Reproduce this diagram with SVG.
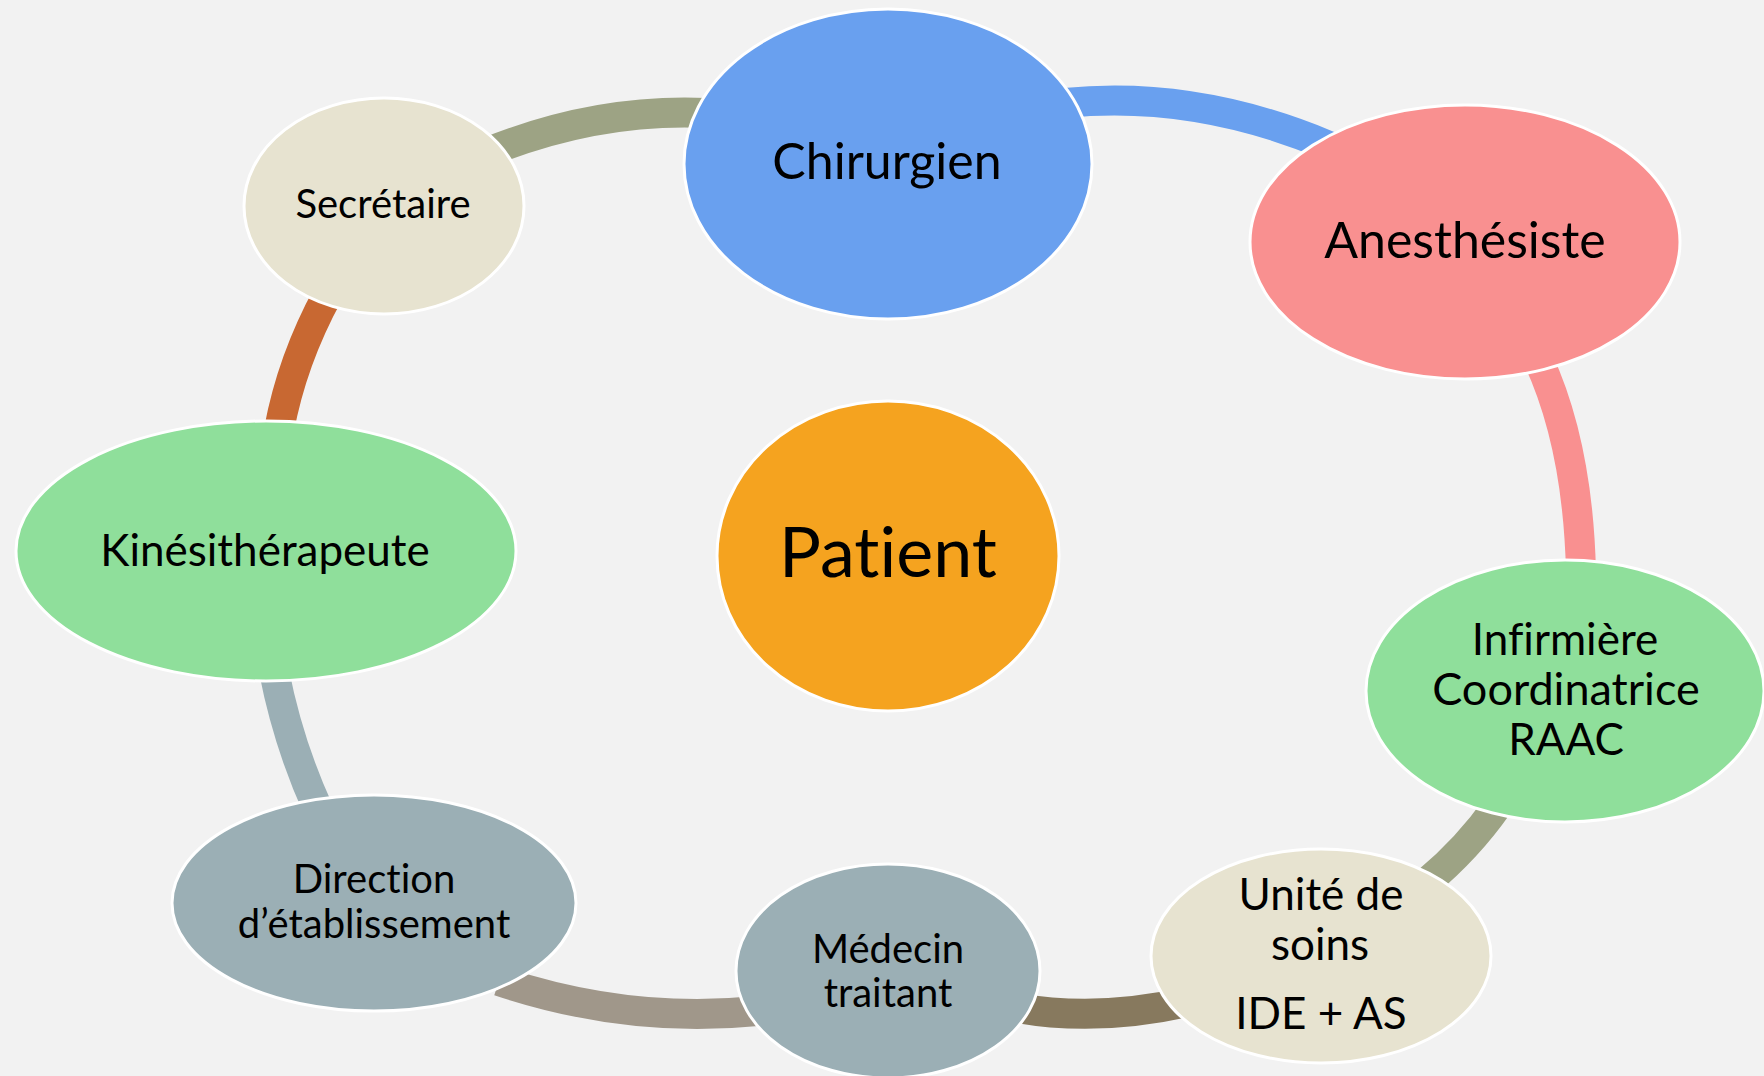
<svg xmlns="http://www.w3.org/2000/svg" width="1764" height="1076" viewBox="0 0 1764 1076">
<style>
.node{stroke:#FFFFFF;stroke-width:3}
.c{fill:none;stroke-width:30;stroke-linecap:butt}
text{font-family:Lato,"Open Sans","Liberation Sans",sans-serif;fill:#000;text-anchor:middle;font-variant-ligatures:none;font-feature-settings:"liga" 0}
</style>
<rect width="1764" height="1076" fill="#F2F2F2"/>
<g id="connectors">
<path class="c" stroke="#9DA384" d="M488,152 Q597,108 707,113"/>
<path class="c" stroke="#69A0EF" d="M1065,103 Q1196,90 1329,146"/>
<path class="c" stroke="#F99090" d="M1538,359 Q1578,445 1581,572"/>
<path class="c" stroke="#9DA384" d="M1498,805 Q1468,848 1426,883"/>
<path class="c" stroke="#87795E" d="M1018,1008 Q1097,1022 1187,1002"/>
<path class="c" stroke="#A0978A" d="M499,981 Q628,1024 757,1011"/>
<path class="c" stroke="#9BAFB5" d="M274,671 Q288,743 318,809"/>
<path class="c" stroke="#C86832" d="M279,430 Q292,360 328,294"/>
</g>
<g id="chirurgien"><ellipse class="node" cx="888" cy="164" rx="204" ry="155" fill="#69A0EF"/><text x="887" y="179" font-size="50">Chirurgien</text></g>
<g id="anesthesiste"><ellipse class="node" cx="1465" cy="242" rx="215" ry="137" fill="#F99090"/><text x="1465" y="258" font-size="50">Anesthésiste</text></g>
<g id="infirmiere"><ellipse class="node" cx="1565" cy="691" rx="199" ry="131" fill="#8FDF9B"/><text x="1565" y="655" font-size="44">Infirmière</text><text x="1566" y="705" font-size="45">Coordinatrice</text><text x="1566" y="755" font-size="44">RAAC</text></g>
<g id="unite"><ellipse class="node" cx="1321" cy="956" rx="170" ry="107" fill="#E7E3D0"/><text x="1321" y="910" font-size="44">Unité de</text><text x="1320" y="960" font-size="44">soins</text><text x="1321" y="1029" font-size="44">IDE + AS</text></g>
<g id="medecin"><ellipse class="node" cx="888" cy="971" rx="152" ry="107" fill="#9BAFB5"/><text x="888" y="963" font-size="40">Médecin</text><text x="888" y="1007" font-size="40">traitant</text></g>
<g id="direction"><ellipse class="node" cx="374" cy="903" rx="202" ry="108" fill="#9BAFB5"/><text x="374" y="893" font-size="40">Direction</text><text x="374" y="938" font-size="40">d’établissement</text></g>
<g id="kinesitherapeute"><ellipse class="node" cx="266" cy="551" rx="250" ry="130" fill="#8FDF9B"/><text x="265" y="566" font-size="44">Kinésithérapeute</text></g>
<g id="secretaire"><ellipse class="node" cx="384" cy="206" rx="140" ry="108" fill="#E7E3D0"/><text x="383" y="218" font-size="40">Secrétaire</text></g>
<g id="patient"><ellipse class="node" cx="888" cy="556" rx="171" ry="155" fill="#F5A31F"/><text x="888" y="577" font-size="70">Patient</text></g>
</svg>
